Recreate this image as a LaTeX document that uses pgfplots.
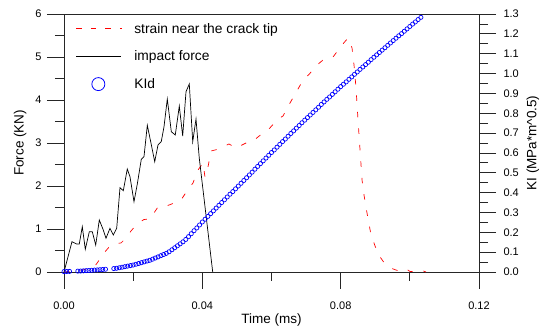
\documentclass[border=0pt]{standalone}
\usepackage{pgfplots}
\pgfplotsset{compat=1.18}
\usepackage{fontspec}
\setmainfont{Liberation Sans}
\pgfplotstableread{
x y
0 0
0.00231 0.705
0.00367 0.651
0.00442 0.651
0.00529 1.053
0.00616 0.528
0.00732 0.937
0.00818 0.937
0.00917 0.628
0.01021 1.209
0.01136 0.977
0.01214 0.784
0.01330 1.016
0.01426 0.860
0.01524 1.016
0.01619 1.960
0.01715 1.891
0.01830 2.395
0.01908 2.216
0.02024 1.635
0.02120 2.047
0.02235 2.621
0.02313 2.681
0.02409 3.412
0.02507 3.030
0.02623 2.565
0.02718 2.953
0.02813 3.035
0.02892 3.379
0.02987 4.023
0.03103 3.263
0.03218 3.186
0.03334 3.860
0.03432 3.163
0.03528 4.193
0.03623 4.372
0.03722 3.030
0.03817 3.558
0.03912 2.644
0.04300 0
}\force
\pgfplotstableread{
x y
0 0
0.00318 0.023
0.00694 0.070
0.00896 0.140
0.01041 0.302
0.01157 0.442
0.01330 0.605
0.01475 0.663
0.01648 0.674
0.01793 0.791
0.01937 0.953
0.02111 1.116
0.02313 1.221
0.02487 1.233
0.02718 1.512
0.02921 1.523
0.03267 1.628
0.03383 1.674
0.03557 1.884
0.03730 2.070
0.03875 2.372
0.04019 2.535
0.04077 2.209
0.04164 2.442
0.04251 2.814
0.04424 2.849
0.04771 2.977
0.04974 2.884
0.05292 3.012
0.05465 3.047
0.05754 3.233
0.05899 3.302
0.06188 3.558
0.06333 3.628
0.06535 3.930
0.06882 4.419
0.07200 4.698
0.07316 4.814
0.07490 4.930
0.07779 5.000
0.08039 5.279
0.08213 5.442
0.08329 5.209
0.08386 4.814
0.08444 4.279
0.08502 3.535
0.08560 2.837
0.08618 2.140
0.08675 1.791
0.08762 1.372
0.08878 0.860
0.09080 0.419
0.09282 0.186
0.09484 0.081
0.09716 0.012
0.09831 0.023
0.09918 0.058
0.10005 0.012
0.10236 0
0.10352 0.035
0.10467 0
}\strain
\pgfplotstableread{
x y
0 0.002
0.0008 0.0025
0.0016 0.003
0.0040 0.0044
0.0048 0.0049
0.0056 0.0057
0.0064 0.0067
0.0072 0.0076
0.0080 0.0086
0.0088 0.0096
0.0096 0.0105
0.0104 0.0116
0.0112 0.0127
0.0120 0.0138
0.0144 0.0172
0.0152 0.0187
0.0160 0.0214
0.0168 0.0241
0.0176 0.0268
0.0184 0.0296
0.0192 0.0323
0.0200 0.035
0.0208 0.039
0.0216 0.043
0.0224 0.047
0.0232 0.051
0.0240 0.055
0.0248 0.059
0.0256 0.0644
0.0264 0.0704
0.0272 0.0763
0.0280 0.0822
0.0288 0.0881
0.0296 0.0940
0.0304 0.102
0.0312 0.112
0.0320 0.122
0.0328 0.132
0.0336 0.142
0.0344 0.152
0.0352 0.164
0.0360 0.178
0.0368 0.193
0.0376 0.208
0.0384 0.222
0.0392 0.237
0.0400 0.252
0.0408 0.266
0.0416 0.280
0.0424 0.294
0.0432 0.308
0.0440 0.322
0.0448 0.336
0.0456 0.350
0.0464 0.364
0.0472 0.378
0.0480 0.392
0.0488 0.405
0.0496 0.419
0.0504 0.433
0.0512 0.447
0.0520 0.461
0.0528 0.475
0.0536 0.489
0.0544 0.503
0.0552 0.518
0.0560 0.532
0.0568 0.546
0.0576 0.560
0.0584 0.574
0.0592 0.588
0.0600 0.602
0.0608 0.615
0.0616 0.629
0.0624 0.643
0.0632 0.657
0.0640 0.670
0.0648 0.684
0.0656 0.698
0.0664 0.711
0.0672 0.725
0.0680 0.738
0.0688 0.752
0.0696 0.765
0.0704 0.778
0.0712 0.791
0.0720 0.804
0.0728 0.817
0.0736 0.830
0.0744 0.844
0.0752 0.857
0.0760 0.870
0.0768 0.882
0.0776 0.895
0.0784 0.908
0.0792 0.921
0.0800 0.934
0.0808 0.946
0.0816 0.958
0.0824 0.971
0.0832 0.983
0.0840 0.996
0.0848 1.008
0.0856 1.021
0.0864 1.033
0.0872 1.045
0.0880 1.057
0.0888 1.070
0.0896 1.082
0.0904 1.094
0.0912 1.106
0.0920 1.118
0.0928 1.130
0.0936 1.142
0.0944 1.154
0.0952 1.166
0.0960 1.178
0.0968 1.190
0.0976 1.201
0.0984 1.213
0.0992 1.225
0.1000 1.237
0.1008 1.249
0.1016 1.260
0.1024 1.272
0.1032 1.283
}\kid
\begin{document}
\begin{tikzpicture}
\pgfplotsset{
  common/.style={
    scale only axis, width=415pt, height=258pt,
    at={(0,0)}, anchor=south west,
    xmin=0, xmax=0.12, clip=false,
    axis line style={line width=0.7pt, black!85},
    tick style={line width=0.7pt, black!85},
    tick align=outside,
    major tick length=17pt, minor tick length=9pt,
    /pgf/number format/assume math mode=true,
    tick label style={font=\fontsize{11}{13}\selectfont},
    label style={font=\fontsize{13.5}{15}\selectfont},
  }
}
\begin{axis}[common,
  ymin=0, ymax=6,
  xtick={0,0.04,0.08,0.12}, minor x tick num=1,
  ytick={0,1,2,3,4,5,6}, minor y tick num=1,
  xtick pos=left, ytick pos=left,
  scaled x ticks=false,
  xticklabel style={yshift=-9pt, /pgf/number format/.cd, fixed, fixed zerofill, precision=2},
  yticklabel style={xshift=-2pt},
  xlabel={Time (ms)}, ylabel={Force (KN)},
  xlabel style={at={(axis description cs:0.5,-0.186)}, anchor=center},
  ylabel style={at={(axis description cs:-0.106,0.5)}, anchor=center},
  legend style={draw=none, fill=none, at={(axis description cs:0,1)}, anchor=north west,
    xshift=8.7pt, yshift=-7pt, font=\fontsize{13.8}{15}\selectfont, row sep=15.5pt,
    nodes={inner sep=0pt}},
  legend cell align=left,
]
\addplot[red, line width=0.7pt, dash pattern=on 5.5pt off 11pt, forget plot] table {\strain};
\addplot[black, line width=0.7pt, forget plot] table {\force};
\addlegendimage{legend image code/.code={\path[draw=none,fill=none] (0pt,0pt) -- (58pt,0pt); \draw[color=red, line width=0.9pt, dash pattern=on 5.5pt off 9pt] (0pt,0pt) -- (46pt,0pt);}}
\addlegendentry{strain near the crack tip}
\addlegendimage{legend image code/.code={\path[draw=none,fill=none] (0pt,0pt) -- (58pt,0pt); \draw[color=black, line width=0.7pt] (0pt,0pt) -- (45pt,0pt);}}
\addlegendentry{impact force}
\addlegendimage{legend image code/.code={\path[draw=none,fill=none] (0pt,0pt) -- (58pt,0pt); \draw[color=blue, line width=0.8pt] (22pt,0pt) circle (6.5pt);}}
\addlegendentry{KId}
\end{axis}
\begin{axis}[common,
  ymin=0, ymax=1.3,
  axis x line=none,
  axis y line*=right,
  ytick={0,0.1,0.2,0.3,0.4,0.5,0.6,0.7,0.8,0.9,1.0,1.1,1.2,1.3}, minor y tick num=1,
  yticklabel style={xshift=4pt, /pgf/number format/.cd, fixed, fixed zerofill, precision=1},
  ylabel={KI (MPa*m\textasciicircum 0.5)},
  ylabel style={at={(axis description cs:1.130,0.5)}, anchor=center},
]
\addplot[only marks, mark=o, mark size=2.1pt, blue, mark options={line width=0.7pt}] table {\kid};
\end{axis}
\pgfresetboundingbox
\path (-64pt,-56pt) rectangle (480pt,272pt);
\end{tikzpicture}
\end{document}
